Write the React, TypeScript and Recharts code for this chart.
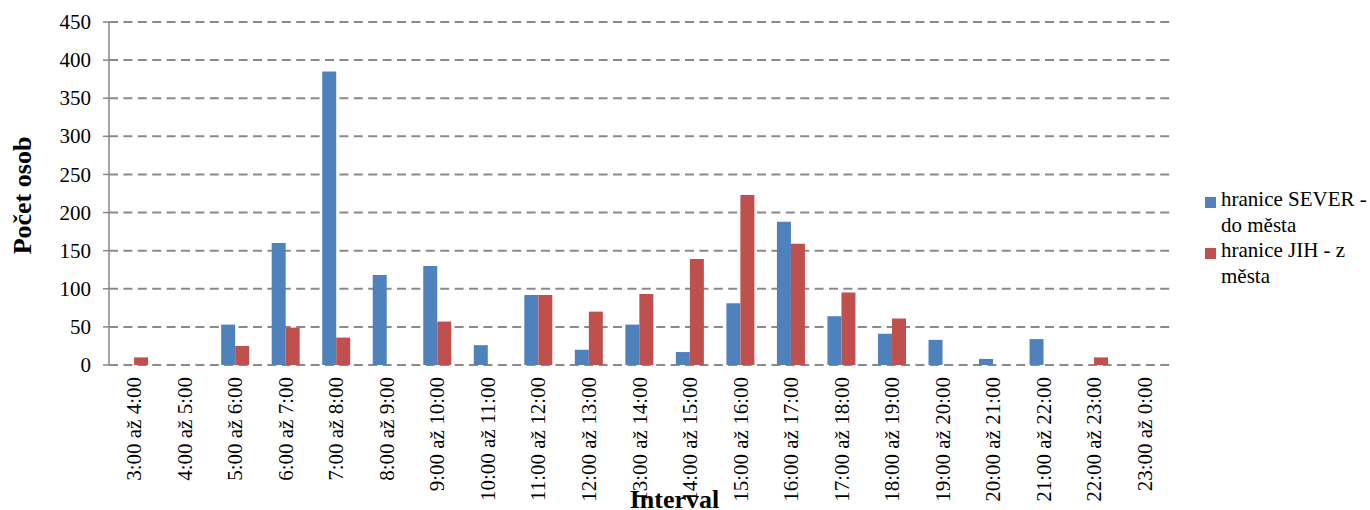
import React from "react";
import { BarChart, Bar, XAxis, YAxis, CartesianGrid } from "recharts";

const categories = [
  "3:00 až 4:00", "4:00 až 5:00", "5:00 až 6:00", "6:00 až 7:00", "7:00 až 8:00",
  "8:00 až 9:00", "9:00 až 10:00", "10:00 až 11:00", "11:00 až 12:00", "12:00 až 13:00",
  "13:00 až 14:00", "14:00 až 15:00", "15:00 až 16:00", "16:00 až 17:00", "17:00 až 18:00",
  "18:00 až 19:00", "19:00 až 20:00", "20:00 až 21:00", "21:00 až 22:00", "22:00 až 23:00",
  "23:00 až 0:00",
];
const sever = [0, 0, 53, 160, 385, 118, 130, 26, 92, 20, 53, 17, 81, 188, 64, 41, 33, 8, 34, 0, 0];
const jih = [10, 0, 25, 49, 36, 0, 57, 0, 92, 70, 93, 139, 223, 159, 95, 61, 0, 0, 0, 10, 0];
const seriesNames = ["hranice SEVER - do města", "hranice JIH - z města"];
const seriesColors = ["#4F81BD", "#C0504D"];
const yTicks = [0, 50, 100, 150, 200, 250, 300, 350, 400, 450];
const boundaryTicks = categories.map((_, i) => i).concat([categories.length]);
const xTitle = "Interval";
const yTitle = "Počet osob";

const data = categories.map((c, i) => ({ cat: c, sever: sever[i], jih: jih[i] }));

const FONT = "'Liberation Serif', 'Times New Roman', serif";
const AXIS = "#868686";

const CatTick = (props: any) => {
  const { x, y, payload } = props;
  const bx = x + 7;
  return (
    <text
      x={bx}
      y={y}
      transform={`rotate(-90 ${bx} ${y})`}
      textAnchor="end"
      style={{ fontFamily: FONT }}
      fontSize={21}
      fill="#000"
    >
      {payload.value}
    </text>
  );
};

const YTick = (props: any) => {
  const { x, y, payload } = props;
  return (
    <text x={x} y={y} dy="0.34em" textAnchor="end" style={{ fontFamily: FONT }} fontSize={21} fill="#000">
      {payload.value}
    </text>
  );
};

const YTitle = (props: any) => {
  const vb = props.viewBox || { x: 0, y: 22, width: 109, height: 343 };
  const x = vb.x + 31;
  const y = vb.y + vb.height / 2 + 2;
  return (
    <text
      x={x}
      y={y}
      transform={`rotate(-90 ${x} ${y})`}
      textAnchor="middle"
      style={{ fontFamily: FONT }}
      fontWeight="bold"
      fontSize={26}
      fill="#000"
    >
      {yTitle}
    </text>
  );
};

const XTitle = (props: any) => {
  const vb = props.viewBox || { x: 109, y: 365, width: 1061, height: 145 };
  const x = vb.x + vb.width / 2 + 35;
  const y = vb.y + vb.height - 2.5;
  return (
    <text x={x} y={y} textAnchor="middle" style={{ fontFamily: FONT }} fontWeight="bold" fontSize={26} fill="#000">
      {xTitle}
    </text>
  );
};

export default function App() {
  return (
    <div style={{ position: "absolute", left: 0, top: 0, width: 1370, height: 510, overflow: "hidden", background: "#fff" }}>
      <BarChart
        width={1370}
        height={510}
        data={data}
        margin={{ top: 22, right: 200, left: 0, bottom: 0 }}
        barCategoryGap="22%"
        barGap={0}
      >
        <CartesianGrid
          xAxisId="cat"
          vertical={false}
          stroke="#8a8a8a"
          strokeWidth={2}
          strokeDasharray="9 5.4"
        />
        <XAxis
          xAxisId="b"
          type="number"
          domain={[0, categories.length]}
          ticks={boundaryTicks}
          tick={false}
          height={0}
          axisLine={{ stroke: AXIS, strokeWidth: 1.5 }}
          tickLine={{ stroke: AXIS, strokeWidth: 1.5 }}
          tickSize={6}
          allowDataOverflow
        />
        <XAxis
          xAxisId="cat"
          dataKey="cat"
          interval={0}
          height={145}
          axisLine={false}
          tickLine={false}
          tickSize={0}
          tickMargin={12}
          tick={<CatTick />}
          label={<XTitle />}
        />
        <YAxis
          domain={[0, 450]}
          ticks={yTicks}
          width={109}
          axisLine={{ stroke: AXIS, strokeWidth: 1.5 }}
          tickLine={{ stroke: AXIS, strokeWidth: 1.5 }}
          tickSize={6}
          tickMargin={12}
          tick={<YTick />}
          label={<YTitle />}
        />
        <Bar xAxisId="cat" dataKey="sever" name={seriesNames[0]} fill={seriesColors[0]} isAnimationActive={false} />
        <Bar xAxisId="cat" dataKey="jih" name={seriesNames[1]} fill={seriesColors[1]} isAnimationActive={false} />
      </BarChart>
      <div
        style={{
          position: "absolute",
          left: 1205,
          top: 187,
          width: 165,
          fontFamily: FONT,
          fontSize: 21,
          lineHeight: "25.5px",
          color: "#000",
        }}
      >
        {seriesNames.map((n, i) => (
          <div key={n} style={{ position: "relative", paddingLeft: 16 }}>
            <span
              style={{
                position: "absolute",
                left: 0,
                top: 10,
                width: 11,
                height: 11,
                background: seriesColors[i],
              }}
            />
            {n}
          </div>
        ))}
      </div>
    </div>
  );
}
